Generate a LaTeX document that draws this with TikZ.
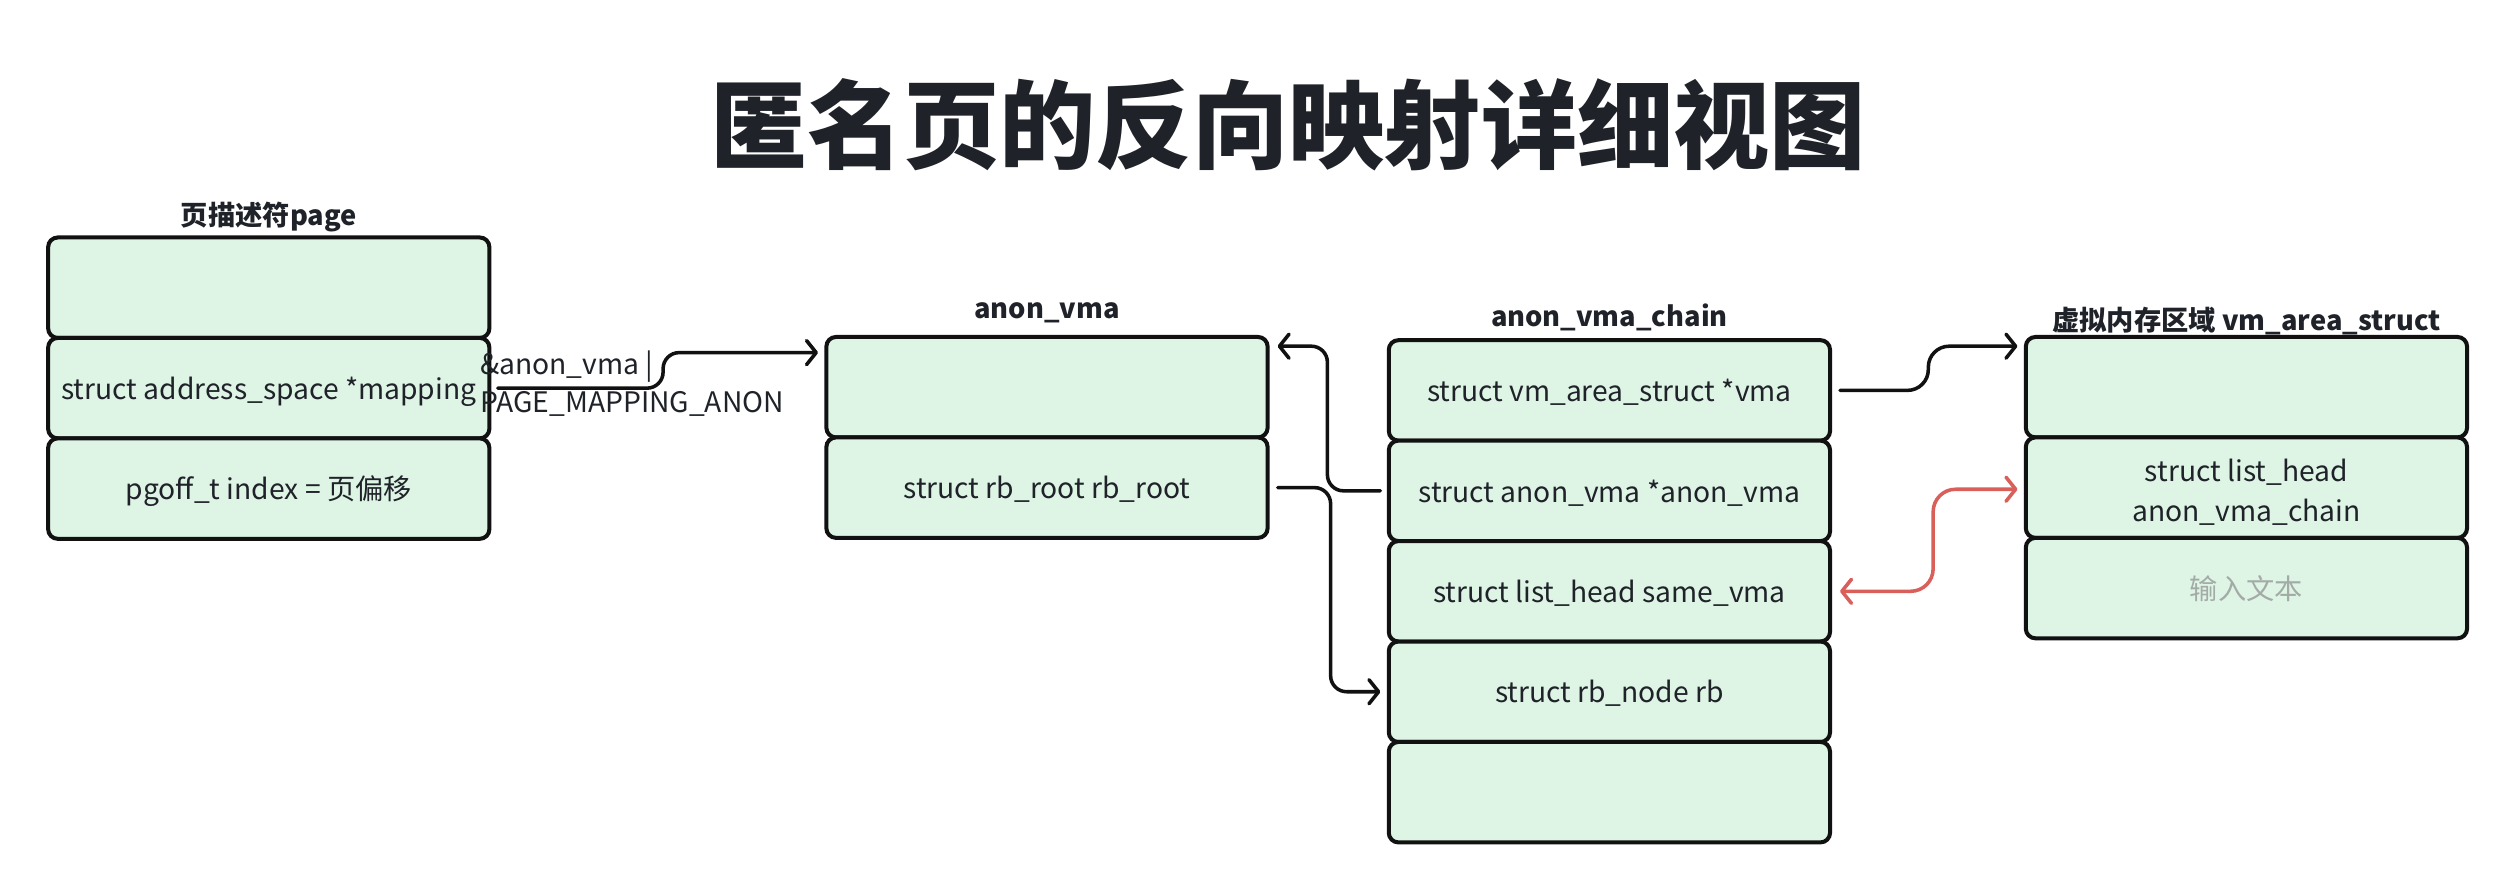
\documentclass[tikz,border=0pt]{standalone}
\usepackage{fontspec}
\setmainfont{Noto Sans CJK SC}
\usetikzlibrary{arrows.meta,calc}
\definecolor{cellgreen}{HTML}{DEF5E5}
\definecolor{ink}{HTML}{1F2329}
\definecolor{edge}{HTML}{111111}
\definecolor{redline}{HTML}{D9605A}
\definecolor{hint}{HTML}{A3ABA7}
\begin{document}
\begin{tikzpicture}[x=1pt,y=-1pt,
  cell/.style={draw=edge,line width=2.5pt,fill=cellgreen,rounded corners=6pt,
    minimum width=275pt,minimum height=62.6pt,inner sep=0pt,text=ink,
    font=\fontsize{17.6}{25}\selectfont,align=center},
  onecell/.style={cell,text height=18pt,text depth=4pt},
  grouplabel/.style={text=ink,font=\fontsize{17}{20}\selectfont\bfseries,inner sep=0pt},
  conn/.style={draw=edge,line width=2.2pt,line cap=round,
    -{Straight Barb[length=6pt,width=15pt,round]}},
  conn2/.style={draw=redline,line width=2.2pt,line cap=round,
    {Straight Barb[length=6pt,width=15pt,round]}-{Straight Barb[length=6pt,width=15pt,round]}}]
\useasboundingbox (0,0) rectangle (1568,558.4);
\fill[white] (0,0) rectangle (1568,558.4);
% title
\node[text=ink,font=\fontsize{60}{70}\selectfont\bfseries,inner sep=0pt] (title) at (803,78) {匿名页的反向映射详细视图};
% page
\node[grouplabel] (lp) at (167.5,135) {页描述符page};
\node[cell] (p1) at (167.5,179.3) {};
\node[onecell] (p2) at (167.5,241.9) {struct address\_space *mapping};
\node[onecell] (p3) at (167.5,304.5) {pgoff\_t index = 页偏移};
% anon_vma
\node[grouplabel] (la) at (652.5,195) {anon\_vma};
\node[cell] (a1) at (652.5,241.3) {};
\node[onecell] (a2) at (652.5,303.9) {struct rb\_root rb\_root};
% anon_vma_chain
\node[grouplabel] (lc) at (1003,198) {anon\_vma\_chain};
\node[onecell] (c1) at (1003,243.3) {struct vm\_area\_struct *vma};
\node[onecell] (c2) at (1003,305.9) {struct anon\_vma *anon\_vma};
\node[onecell] (c3) at (1003,368.5) {struct list\_head same\_vma};
\node[onecell] (c4) at (1003,431.1) {struct rb\_node rb};
\node[cell] (c5) at (1003,493.7) {};
% vm_area_struct
\node[grouplabel] (lv) at (1400,200) {虚拟内存区域 vm\_area\_struct};
\node[cell] (v1) at (1400,241.3) {};
\node[cell] (v2) at (1400,303.9) {\rule{0pt}{19.5pt}struct list\_head\\anon\_vma\_chain};
\node[onecell,text=hint] (v3) at (1400,366.5) {输入文本};
% connectors
\draw[conn,rounded corners=10pt] ([xshift=4pt]p2.east) -- ++(103,0) |- ([xshift=-4pt,yshift=-11pt]a1.north west);
\node[text=ink,font=\fontsize{17.6}{23.5}\selectfont,align=left,anchor=west,inner sep=0pt] (lab) at (299,239.3) {\&anon\_vma |\\PAGE\_MAPPING\_ANON};
\draw[conn,rounded corners=10pt] ([xshift=-4pt]c2.west) -- ++(-33,0) |- ([xshift=5pt,yshift=-7pt]a1.north east);
\draw[conn,rounded corners=10pt] ([xshift=5pt]a2.east) -- ++(33,0) |- ([xshift=-4pt]c4.west);
\draw[conn,rounded corners=13pt] ([xshift=5pt]c1.east) -- ++(55,0) |- ([xshift=-4pt,yshift=-7pt]v1.north west);
\draw[conn2,rounded corners=14pt] ([xshift=5pt]c3.east) -- ++(58,0) |- ([xshift=-4pt,yshift=-1pt]v2.west);
\end{tikzpicture}
\end{document}
